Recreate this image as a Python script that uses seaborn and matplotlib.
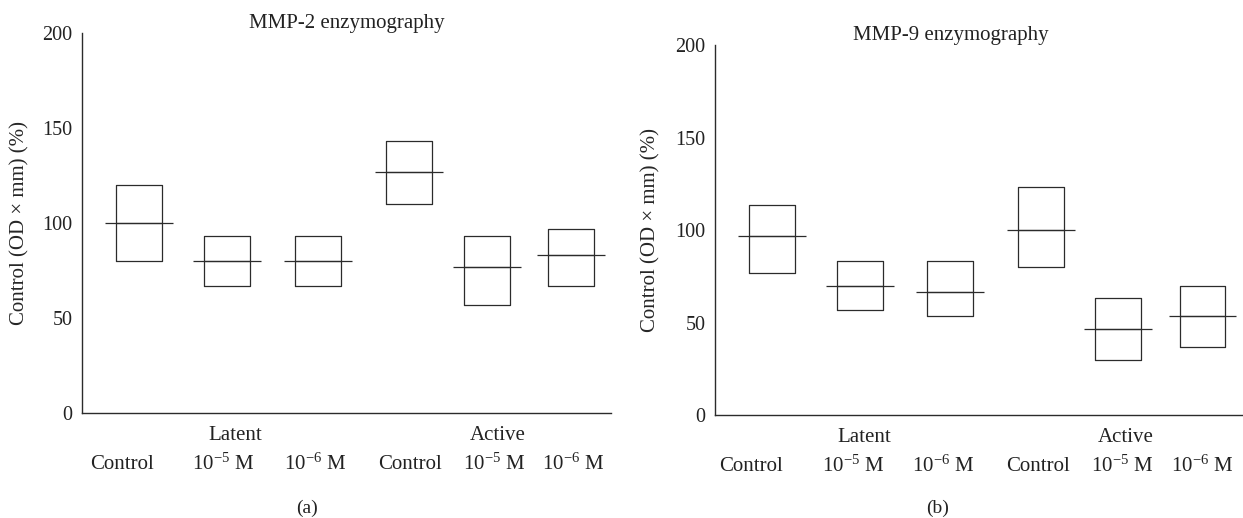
import numpy as np
import pandas as pd
import matplotlib
matplotlib.use("Agg")
import matplotlib.pyplot as plt
import matplotlib.transforms as mtransforms
import seaborn as sns

# categories (x axis)
groups = ["Latent", "Active"]
categories = ["Control", r"$10^{-5}$ M", r"$10^{-6}$ M",
              "Control", r"$10^{-5}$ M", r"$10^{-6}$ M"]

# MMP-2: lower edge, middle line, upper edge (% of control)
mmp2_low = [80, 66.7, 66.7, 110, 56.7, 66.7]
mmp2_mid = [100, 80, 80, 126.7, 76.7, 83.3]
mmp2_high = [120, 93.3, 93.3, 143.3, 93.3, 96.7]

# MMP-9
mmp9_low = [76.7, 56.7, 53.3, 80, 30, 36.7]
mmp9_mid = [96.7, 70, 66.7, 100, 46.7, 53.3]
mmp9_high = [113.3, 83.3, 83.3, 123.3, 63.3, 70]

# layout (x positions in axis units)
box_pos = [0, 0.98, 1.99, 3.0, 3.86, 4.8]
label_pos = {"a": [-0.19, 0.93, 1.96, 3.01, 3.94, 4.82],
             "b": [-0.23, 0.91, 1.91, 2.97, 3.90, 4.80]}
group_pos = {"a": [1.07, 3.98], "b": [1.03, 3.94]}

sns.set_style("white")
plt.rcParams["font.family"] = ["Liberation Serif", "DejaVu Serif"]
plt.rcParams["mathtext.fontset"] = "custom"
plt.rcParams["mathtext.rm"] = "Liberation Serif"
plt.rcParams["mathtext.it"] = "Liberation Serif:italic"
plt.rcParams["text.color"] = "#222222"

LINE = "#2b2b2b"
FS = 15


def box_frame(low, mid, high):
    # five values per group -> quartiles fall exactly on low / mid / high
    rows = []
    for i, (a, m, b) in enumerate(zip(low, mid, high)):
        for v in (a, a, m, b, b):
            rows.append({"pos": box_pos[i], "value": v})
    return pd.DataFrame(rows)


def draw_panel(ax, low, mid, high, title, title_x, key, ylab_x):
    df = box_frame(low, mid, high)
    min_gap = np.min(np.diff(sorted(box_pos)))
    sns.boxplot(data=df, x="pos", y="value", native_scale=True, fill=False,
                color=LINE, linewidth=0.9, width=0.51 / min_gap, whis=0,
                showcaps=False, showfliers=False, ax=ax,
                medianprops=dict(color=LINE, linewidth=0.9))
    # middle line runs past the box on both sides
    half = 0.378
    ax.hlines(mid, np.array(box_pos) - half, np.array(box_pos) + half,
              color=LINE, linewidth=0.9)

    ax.set_ylim(0, 200)
    ax.set_xlim(-0.633, 5.24)
    ax.set_yticks([0, 50, 100, 150, 200])
    ax.tick_params(axis="y", length=0, pad=7, labelsize=FS - 0.5, colors="#222222")
    ax.set_xticks(label_pos[key])
    ax.set_xticklabels(categories)
    ax.tick_params(axis="x", length=0, pad=37, labelsize=FS, colors="#222222")
    for lab in ax.get_xticklabels():
        lab.set_verticalalignment("center")

    trans = mtransforms.blended_transform_factory(ax.transData, ax.transAxes)
    for g, gx in zip(groups, group_pos[key]):
        ax.text(gx, -0.06, g, transform=trans, ha="center", va="center", fontsize=FS)

    ax.set_xlabel("")
    ax.set_ylabel("Control (OD × mm) (%)", fontsize=FS)
    ax.yaxis.set_label_coords(ylab_x, 0.5)
    ax.text(title_x, 1.014, title, transform=ax.transAxes, ha="center",
            va="baseline", fontsize=FS)

    sns.despine(ax=ax)
    for side in ("left", "bottom"):
        ax.spines[side].set_color(LINE)
        ax.spines[side].set_linewidth(1.0)


fig = plt.figure(figsize=(12.43, 5.18), dpi=100)
ax_a = fig.add_axes([0.0660, 0.2027, 0.4256, 0.7336])
ax_b = fig.add_axes([0.5752, 0.1988, 0.4240, 0.7143])

draw_panel(ax_a, mmp2_low, mmp2_mid, mmp2_high, "MMP-2 enzymography", 0.5, "a", -0.100)
draw_panel(ax_b, mmp9_low, mmp9_mid, mmp9_high, "MMP-9 enzymography", 0.447, "b", -0.104)

fig.text(0.247, 0.019, "(a)", ha="center", va="center", fontsize=FS - 1)
fig.text(0.754, 0.019, "(b)", ha="center", va="center", fontsize=FS - 1)

fig.savefig("out.png", dpi=100)
